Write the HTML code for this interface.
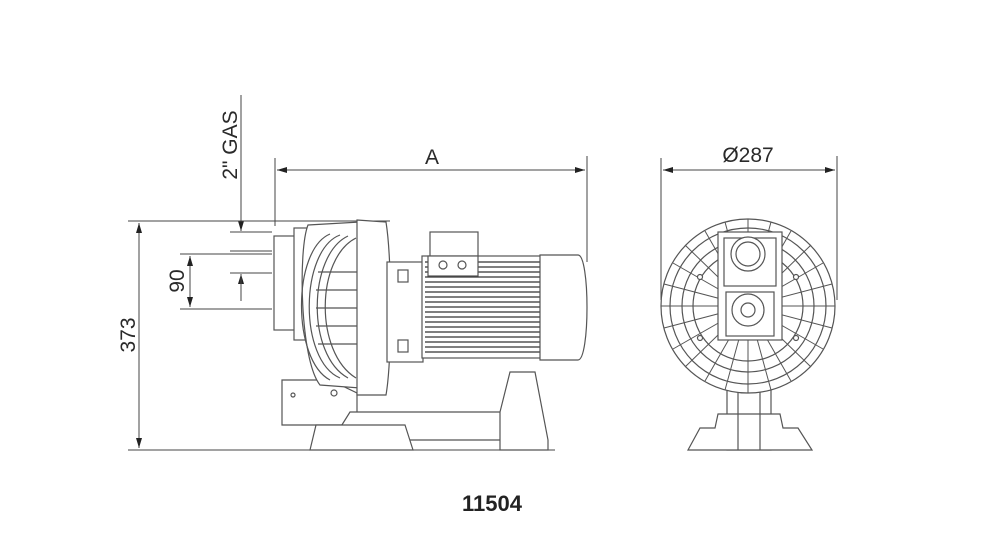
<!DOCTYPE html>
<html><head><meta charset="utf-8"><style>
html,body{margin:0;padding:0;background:#fff;}
svg{display:block;}
text{font-family:"Liberation Sans",sans-serif;fill:#2a2a2a;}
</style></head><body>
<svg width="1000" height="549" viewBox="0 0 1000 549" xmlns="http://www.w3.org/2000/svg">
<defs>
<marker id="ar" viewBox="0 0 10 6" refX="10" refY="3" markerWidth="10" markerHeight="6" orient="auto-start-reverse" markerUnits="userSpaceOnUse">
<path d="M0,0 L10,3 L0,6 z" fill="#222"/></marker>
</defs>
<g stroke="#444" stroke-width="1" fill="none">
<line x1="275" y1="158" x2="275" y2="226"/>
<line x1="587" y1="156" x2="587" y2="262"/>
<line x1="277" y1="170" x2="585" y2="170" marker-start="url(#ar)" marker-end="url(#ar)"/>
<line x1="241" y1="95" x2="241" y2="221"/>
<line x1="241" y1="221" x2="241" y2="231" marker-end="url(#ar)"/>
<line x1="241" y1="284" x2="241" y2="274" marker-end="url(#ar)"/>
<line x1="241" y1="274" x2="241" y2="301"/>
<line x1="230" y1="232" x2="272" y2="232"/>
<line x1="230" y1="273" x2="272" y2="273"/>
<line x1="230" y1="251" x2="272" y2="251"/>
<line x1="128" y1="221" x2="390" y2="221"/>
<line x1="128" y1="450" x2="555" y2="450"/>
<line x1="139" y1="223" x2="139" y2="448" marker-start="url(#ar)" marker-end="url(#ar)"/>
<line x1="180" y1="254" x2="272" y2="254"/>
<line x1="180" y1="309" x2="272" y2="309"/>
<line x1="190" y1="256" x2="190" y2="307" marker-start="url(#ar)" marker-end="url(#ar)"/>
<line x1="661" y1="158" x2="661" y2="300"/>
<line x1="837" y1="156" x2="837" y2="300"/>
<line x1="663" y1="170" x2="835" y2="170" marker-start="url(#ar)" marker-end="url(#ar)"/>
</g>
<g stroke="#555" stroke-width="1.2" fill="#fff">
<path d="M282,395 L282,380 L330,380 L357,393 L357,425 L282,425 z"/>
<path d="M340,428 L350,412 L510,412 L515,400 L530,400 L530,440 L340,440 z"/>
<path d="M310,450 L316,425 L405,425 L413,450 z"/>
<path d="M500,412 L510,372 L535,372 L548,440 L548,450 L500,450 z"/>
<circle cx="293" cy="395" r="2"/><circle cx="334" cy="393" r="3"/>
<rect x="274" y="236" width="26" height="94"/>
<rect x="294" y="228" width="14" height="112"/>
<path d="M308,225 L360,222 L360,388 L320,385 C300,360 298,250 308,225 z"/>
<path d="M340,235 C300,250 298,360 340,378" fill="none"/>
<path d="M348,236 C308,255 306,355 348,378" fill="none"/>
<path d="M356,238 C316,258 314,352 356,378" fill="none"/>
<path d="M330,234 C292,250 292,360 330,380" fill="none"/>
<g fill="none"><line x1="318" y1="272" x2="358" y2="272"/><line x1="316" y1="290" x2="358" y2="290"/><line x1="316" y1="308" x2="358" y2="308"/><line x1="316" y1="326" x2="358" y2="326"/><line x1="318" y1="344" x2="358" y2="344"/></g>
<path d="M357,220 L386,222 C392,260 392,360 386,395 L357,395 z"/>
<rect x="387" y="262" width="36" height="100"/>
<rect x="398" y="270" width="10" height="12"/><rect x="398" y="340" width="10" height="12"/>
<rect x="422" y="256" width="120" height="102"/>
<g fill="none" stroke="#333">
<line x1="425" y1="262" x2="540" y2="262"/><line x1="425" y1="267" x2="540" y2="267"/><line x1="425" y1="272" x2="540" y2="272"/><line x1="425" y1="277" x2="540" y2="277"/><line x1="425" y1="282" x2="540" y2="282"/><line x1="425" y1="287" x2="540" y2="287"/><line x1="425" y1="292" x2="540" y2="292"/><line x1="425" y1="297" x2="540" y2="297"/><line x1="425" y1="302" x2="540" y2="302"/><line x1="425" y1="307" x2="540" y2="307"/><line x1="425" y1="312" x2="540" y2="312"/><line x1="425" y1="317" x2="540" y2="317"/><line x1="425" y1="322" x2="540" y2="322"/><line x1="425" y1="327" x2="540" y2="327"/><line x1="425" y1="332" x2="540" y2="332"/><line x1="425" y1="337" x2="540" y2="337"/><line x1="425" y1="342" x2="540" y2="342"/><line x1="425" y1="347" x2="540" y2="347"/><line x1="425" y1="352" x2="540" y2="352"/>
</g>
<rect x="430" y="232" width="48" height="24"/>
<rect x="428" y="256" width="50" height="20"/>
<circle cx="443" cy="265" r="4"/><circle cx="462" cy="265" r="4"/>
<path d="M540,255 L578,255 C590,255 590,360 578,360 L540,360 z"/>
<rect x="727" y="378" width="44" height="72"/>
<path d="M688,450 L700,428 L715,428 L718,414 L780,414 L783,428 L798,428 L812,450 z"/>
<line x1="738" y1="378" x2="738" y2="450"/><line x1="760" y1="378" x2="760" y2="450"/>
<circle cx="748" cy="306" r="87"/>
<circle cx="748" cy="306" r="78" fill="none"/>
<circle cx="748" cy="306" r="66" fill="none"/>
<circle cx="748" cy="306" r="55" fill="none"/>
<g fill="none" stroke-width="1">
<line x1="661" y1="306" x2="835" y2="306"/><line x1="748" y1="219" x2="748" y2="393"/>
<line x1="673" y1="263" x2="823" y2="349"/><line x1="673" y1="349" x2="823" y2="263"/>
<line x1="705" y1="231" x2="791" y2="381"/><line x1="705" y1="381" x2="791" y2="231"/>
<line x1="664" y1="284" x2="832" y2="328"/><line x1="664" y1="328" x2="832" y2="284"/>
<line x1="685" y1="245" x2="811" y2="367"/><line x1="685" y1="367" x2="811" y2="245"/>
<line x1="725" y1="222" x2="771" y2="390"/><line x1="725" y1="390" x2="771" y2="222"/>
</g>
<rect x="718" y="232" width="64" height="108"/>
<rect x="724" y="238" width="52" height="48"/>
<circle cx="748" cy="254" r="17"/><circle cx="748" cy="254" r="12"/>
<rect x="726" y="292" width="48" height="44"/>
<circle cx="748" cy="310" r="16"/><circle cx="748" cy="310" r="7"/>
<circle cx="700" cy="277" r="2.5"/><circle cx="796" cy="277" r="2.5"/><circle cx="700" cy="338" r="2.5"/><circle cx="796" cy="338" r="2.5"/>
</g>
<text x="432" y="164" font-size="21" text-anchor="middle">A</text>
<text x="748" y="162" font-size="21" text-anchor="middle">Ø287</text>
<text transform="translate(237,145) rotate(-90)" font-size="21" text-anchor="middle">2" GAS</text>
<text transform="translate(135,335) rotate(-90)" font-size="21" text-anchor="middle">373</text>
<text transform="translate(184,281) rotate(-90)" font-size="21" text-anchor="middle">90</text>
<text x="492" y="511" font-size="22" font-weight="bold" text-anchor="middle" style="fill:#222">11504</text>
</svg>
</body></html>
